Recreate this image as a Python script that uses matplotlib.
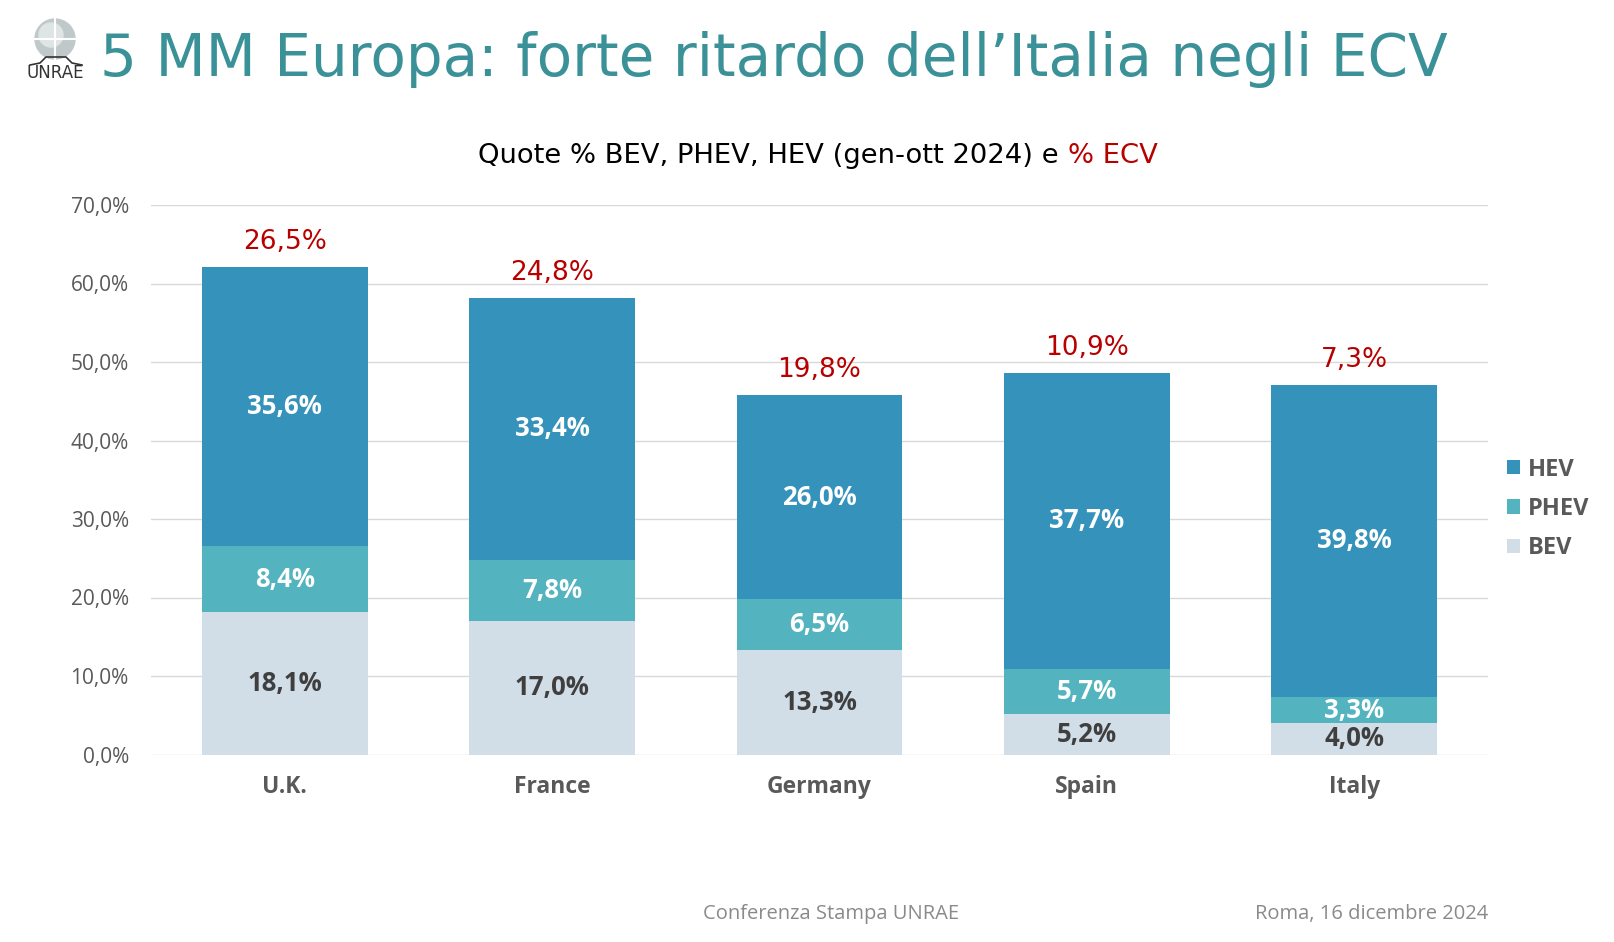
import numpy as np
import matplotlib.pyplot as plt
from matplotlib.patches import Circle


countries = ["U.K.", "France", "Germany", "Spain", "Italy"]
bev = [18.1, 17.0, 13.3, 5.2, 4.0]
phev = [8.4, 7.8, 6.5, 5.7, 3.3]
hev = [35.6, 33.4, 26.0, 37.7, 39.8]
ecv = [26.5, 24.8, 19.8, 10.9, 7.3]
yticks = [0, 10, 20, 30, 40, 50, 60, 70]

C_HEV = "#3592ba"
C_PHEV = "#53b3bf"
C_BEV = "#d1dde7"
TEAL = "#3b9198"
RED = "#b80000"
GREY = "#595959"
FONT = "Open Sans"


def pct(v):
    return f"{v:.1f}%".replace(".", ",")


W, H = 1614, 942
fig = plt.figure(figsize=(W / 100, H / 100), dpi=100)

ax = fig.add_axes([151 / W, 1 - 754.5 / H, 1337 / W, 549.5 / H])
x = np.arange(len(countries))
width = 0.62

bottom_phev = np.array(bev)
bottom_hev = bottom_phev + np.array(phev)
totals = bottom_hev + np.array(hev)

b1 = ax.bar(x, bev, width, color=C_BEV, label="BEV", zorder=3)
b2 = ax.bar(x, phev, width, bottom=bottom_phev, color=C_PHEV, label="PHEV", zorder=3)
b3 = ax.bar(x, hev, width, bottom=bottom_hev, color=C_HEV, label="HEV", zorder=3)

lab_font = dict(family=FONT, fontweight="bold", fontsize=18.5)
for i in range(len(countries)):
    ax.text(x[i], bev[i] / 2, pct(bev[i]), ha="center", va="center",
            color="#3f3f3f", zorder=4, **lab_font)
    ax.text(x[i], bottom_phev[i] + phev[i] / 2, pct(phev[i]), ha="center",
            va="center", color="white", zorder=4, **lab_font)
    ax.text(x[i], bottom_hev[i] + hev[i] / 2, pct(hev[i]), ha="center",
            va="center", color="white", zorder=4, **lab_font)
    ax.text(x[i], totals[i] + 3.2, pct(ecv[i]), ha="center", va="center",
            color=RED, fontsize=19, family="DejaVu Sans", zorder=4)

ax.set_xlim(-0.5, len(countries) - 0.5)
ax.set_ylim(0, 70)
ax.set_yticks(yticks)
ax.set_yticklabels([pct(v) for v in yticks], family=FONT, fontsize=15,
                   color=GREY)
ax.set_xticks(x)
ax.set_xticklabels(countries, family=FONT, fontweight="bold", fontsize=16.5,
                   color=GREY)
ax.tick_params(length=0)
ax.tick_params(axis="x", pad=15)
ax.tick_params(axis="y", pad=16)
ax.grid(axis="y", color="#d9d9d9", lw=1, zorder=0)
for s in ax.spines.values():
    s.set_visible(False)

handles = [b3, b2, b1]
leg = ax.legend(handles, ["HEV", "PHEV", "BEV"], loc="center left",
                bbox_to_anchor=(0.998, 0.447), frameon=False,
                prop=dict(family=FONT, weight="bold", size=17),
                handlelength=0.55, handleheight=0.55, handletextpad=0.35,
                labelspacing=0.65)
for t in leg.get_texts():
    t.set_color(GREY)

# title
fig.text(100 / W, 1 - 59 / H, "5 MM Europa: forte ritardo dell’Italia negli ECV",
         ha="left", va="center", color=TEAL, fontsize=41.8, family="DejaVu Sans")

# subtitle, last part in red
sub = fig.text(0, 1 - 156 / H, "Quote % BEV, PHEV, HEV (gen-ott 2024) e ",
               ha="left", va="center", fontsize=19.7, family="DejaVu Sans",
               color="black")
red = fig.text(0, 1 - 156 / H, "% ECV", ha="left", va="center", fontsize=19.7,
               family="DejaVu Sans", color=RED)
fig.canvas.draw()
w1 = sub.get_window_extent().width
w2 = red.get_window_extent().width
start = 818 - (w1 + w2) / 2
sub.set_x(start / W)
red.set_x((start + w1) / W)

# footer
fig.text(703 / W, 1 - 914 / H, "Conferenza Stampa UNRAE", ha="left",
         va="center", fontsize=14.5, color="#8a8a8a", family=FONT)
fig.text(1488 / W, 1 - 914 / H, "Roma, 16 dicembre 2024", ha="right",
         va="center", fontsize=14.5, color="#8a8a8a", family=FONT)

# logo
lax = fig.add_axes([20 / W, 1 - 80 / H, 70 / W, 62 / H])
lax.set_xlim(0, 70)
lax.set_ylim(0, 62)
lax.set_aspect("equal")
lax.axis("off")
lax.add_patch(Circle((35, 41), 20, color="#bfc9c9"))
lax.add_patch(Circle((31, 45), 12, color="#dfe5e5"))
lax.plot([35, 35], [21, 61], color="white", lw=1.5)
lax.plot([15, 55], [41, 41], color="white", lw=1.5)
lax.plot([10, 20, 26, 46, 52, 62], [15, 17, 23, 23, 17, 15], color="#333333", lw=1.2)
lax.text(35, 7, "UNRAE", ha="center", va="center", fontsize=12,
         color="#333333", family="DejaVu Sans")

fig.savefig("out.png", dpi=100)
